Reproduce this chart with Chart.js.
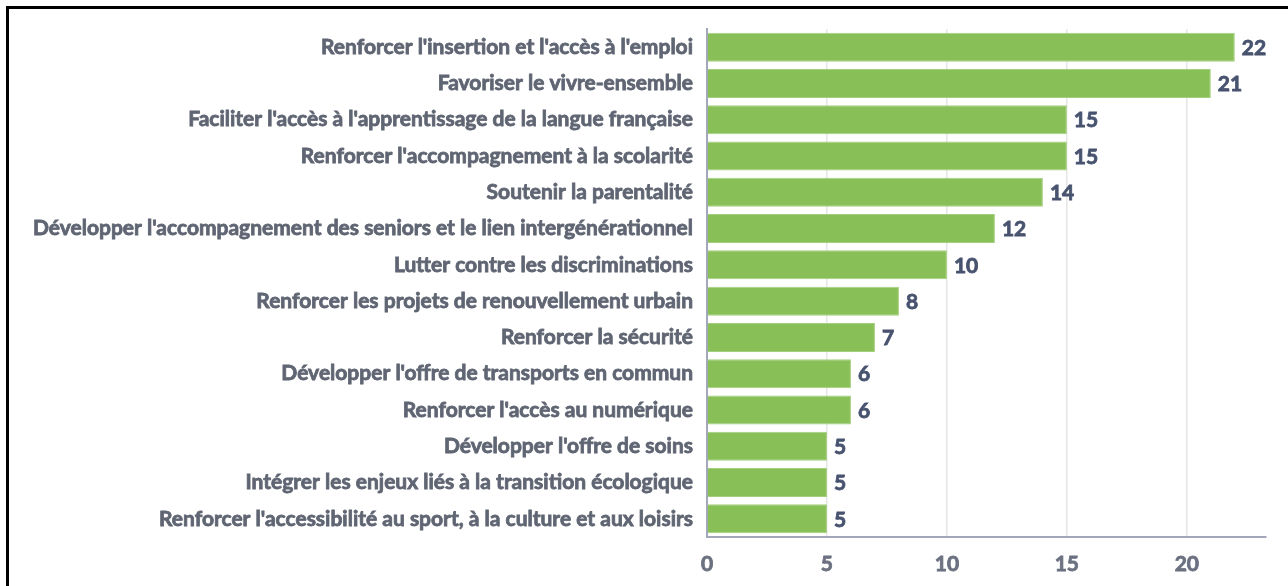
<!DOCTYPE html>
<html>
<head>
<meta charset="utf-8">
<script src="https://cdn.jsdelivr.net/npm/chart.js@4/dist/chart.umd.min.js"></script>
<style>
  html, body { margin: 0; padding: 0; background: #fff; overflow: hidden; }
  #wrap { position: relative; width: 1288px; height: 586px; }
  #frame {
    position: absolute; left: 6px; top: 6px; width: 1300px; height: 600px;
    border: 3px solid #000; box-sizing: border-box; pointer-events: none;
  }
  canvas { position: absolute; left: 0; top: 0; }
</style>
</head>
<body>
<div id="wrap">
  <canvas id="chart" width="1288" height="586"></canvas>
  <div id="frame"></div>
</div>
<script>
// ---- Data ---------------------------------------------------------
const categories = [
  "Renforcer l'insertion et l'accès à l'emploi",
  "Favoriser le vivre-ensemble",
  "Faciliter l'accès à l'apprentissage de la langue française",
  "Renforcer l'accompagnement à la scolarité",
  "Soutenir la parentalité",
  "Développer l'accompagnement des seniors et le lien intergénérationnel",
  "Lutter contre les discriminations",
  "Renforcer les projets de renouvellement urbain",
  "Renforcer la sécurité",
  "Développer l'offre de transports en commun",
  "Renforcer l'accès au numérique",
  "Développer l'offre de soins",
  "Intégrer les enjeux liés à la transition écologique",
  "Renforcer l'accessibilité au sport, à la culture et aux loisirs",
];
const counts = [22, 21, 15, 15, 14, 12, 10, 8, 7, 6, 6, 5, 5, 5];
const xTicks = [0, 5, 10, 15, 20];

const FONT = "Lato, 'Open Sans', sans-serif";
const GREEN = "#89bf57";
const LABEL_GREY = "#5f6572";
const TICK_GREY = "#6b7180";
const VALUE_NAVY = "#48536f";

// ---- Value labels at bar ends -------------------------------------
const valueLabels = {
  id: "valueLabels",
  afterDatasetsDraw(chart) {
    const { ctx } = chart;
    const meta = chart.getDatasetMeta(0);
    ctx.save();
    ctx.font = "bold 21px " + FONT;
    ctx.fillStyle = VALUE_NAVY;
    ctx.strokeStyle = VALUE_NAVY;
    ctx.lineWidth = 0.8;
    ctx.textAlign = "left";
    ctx.textBaseline = "middle";
    meta.data.forEach((bar, i) => {
      ctx.fillText(String(counts[i]), bar.x + 7, bar.y + 1);
      ctx.strokeText(String(counts[i]), bar.x + 7, bar.y + 1);
    });
    ctx.restore();
  },
};

new Chart(document.getElementById("chart"), {
  type: "bar",
  data: {
    labels: categories,
    datasets: [{
      data: counts,
      backgroundColor: GREEN,
      borderColor: "#a2cf7c",
      borderWidth: 1,
      barPercentage: 0.8,
      categoryPercentage: 1,
    }],
  },
  options: {
    responsive: false,
    animation: false,
    indexAxis: "y",
    layout: { padding: { top: 29, right: 22, bottom: 0, left: 0 } },
    plugins: { legend: { display: false }, tooltip: { enabled: false } },
    scales: {
      x: {
        min: 0,
        max: 23.3,
        afterBuildTicks(scale) {
          scale.ticks = xTicks.map((v) => ({ value: v }));
        },
        afterFit(scale) { scale.height = 49; },
        grid: { color: "#e6e6e6", lineWidth: 1.5, drawTicks: false },
        border: { color: "#a3a7ba", width: 2 },
        ticks: {
          color: TICK_GREY,
          textStrokeColor: TICK_GREY,
          textStrokeWidth: 0.8,
          padding: 15,
          font: { family: FONT, size: 21, weight: "bold" },
        },
      },
      y: {
        afterFit(scale) { scale.width = 707; },
        grid: { display: false, drawTicks: false },
        border: { color: "#a3a7ba", width: 2 },
        ticks: {
          color: LABEL_GREY,
          textStrokeColor: LABEL_GREY,
          textStrokeWidth: 0.8,
          padding: 14,
          font: { family: FONT, size: 21, weight: "bold" },
        },
      },
    },
  },
  plugins: [valueLabels],
});
</script>
</body>
</html>
